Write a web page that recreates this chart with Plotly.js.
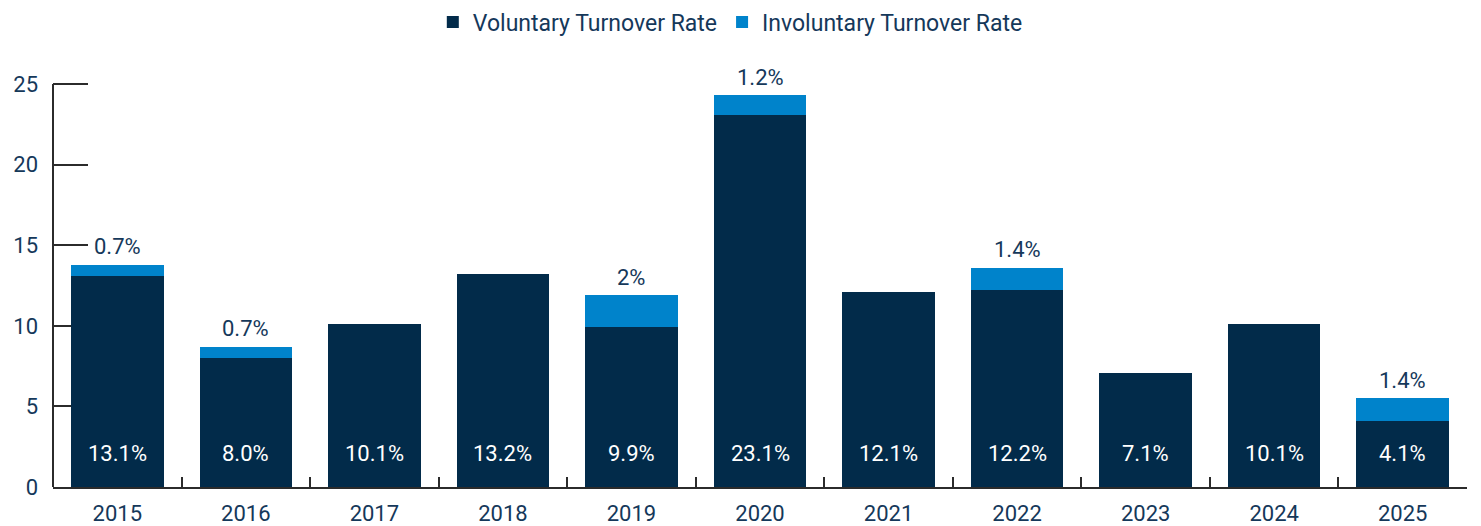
<!DOCTYPE html>
<html>
<head>
<meta charset="utf-8">
<script src="https://cdn.plot.ly/plotly-3.0.1.min.js"></script>
<style>html,body{margin:0;padding:0;background:#fff;}#chart{width:1481px;height:526px;}</style>
</head>
<body>
<div id="chart"></div>
<script>
const years = ['2015','2016','2017','2018','2019','2020','2021','2022','2023','2024','2025'];
const voluntary = [13.1, 8.0, 10.1, 13.2, 9.9, 23.1, 12.1, 12.2, 7.1, 10.1, 4.1];
const involuntary = [0.7, 0.7, 0, 0, 2, 1.2, 0, 1.4, 0, 0, 1.4];
const voluntaryLabels = ['13.1%','8.0%','10.1%','13.2%','9.9%','23.1%','12.1%','12.2%','7.1%','10.1%','4.1%'];
const involuntaryLabels = ['0.7%','0.7%','','','2%','1.2%','','1.4%','','','1.4%'];
const yTicks = [0, 5, 10, 15, 20, 25];

const navy = '#022b4a';
const blue = '#0083cb';
const textColor = '#15385a';
const font = 'Roboto, sans-serif';

const traces = [
  {type:'bar', name:'Voluntary Turnover Rate', x:years, y:voluntary, marker:{color:navy}, hoverinfo:'skip'},
  {type:'bar', name:'Involuntary Turnover Rate', x:years, y:involuntary, marker:{color:blue}, hoverinfo:'skip'}
];

const annotations = [];
years.forEach((yr, i) => {
  annotations.push({x:i, y:0, xref:'x', yref:'y', text:voluntaryLabels[i], showarrow:false,
    yanchor:'middle', xanchor:'center', yshift:34, font:{color:'#ffffff', size:22, family:font}});
  if (involuntaryLabels[i]) {
    annotations.push({x:i, y:voluntary[i] + involuntary[i], xref:'x', yref:'y', text:involuntaryLabels[i], showarrow:false,
      yanchor:'middle', xanchor:'center', yshift:18, font:{color:textColor, size:22, family:font}});
  }
});

const layout = {
  width:1481, height:526,
  margin:{l:53, r:14, t:80, b:39, autoexpand:false},
  paper_bgcolor:'#fff', plot_bgcolor:'#fff',
  barmode:'stack', bargap:0.28,
  font:{family:font, color:textColor, size:22},
  showlegend:true,
  legend:{orientation:'h', xref:'paper', x:0.479, xanchor:'center', yref:'container', y:0.958, yanchor:'middle',
    font:{size:23, color:textColor, family:font}, traceorder:'normal'},
  xaxis:{type:'category', range:[-0.5, 10.5], showline:true, linecolor:'#2b2b2b', linewidth:2,
    ticks:'inside', tickson:'boundaries', ticklen:10, tickwidth:2, tickcolor:'#2b2b2b',
    showgrid:false, zeroline:false, tickfont:{size:22, color:textColor, family:font}, ticklabelstandoff:6},
  yaxis:{range:[0, 25.25], tickvals:yTicks, showline:false, linecolor:'#2b2b2b', linewidth:2,
    ticks:'inside', ticklen:35, tickwidth:2, tickcolor:'#2b2b2b', layer:'below traces',
    showgrid:false, zeroline:false, tickfont:{size:22, color:textColor, family:font}, ticklabelstandoff:14},
  shapes:[{type:'line', xref:'paper', yref:'y', x0:0, x1:0, y0:0, y1:yTicks[yTicks.length-1],
    line:{color:'#2b2b2b', width:2}, layer:'below'}],
  annotations:annotations
};

Plotly.newPlot('chart', traces, layout, {displayModeBar:false});
</script>
</body>
</html>
